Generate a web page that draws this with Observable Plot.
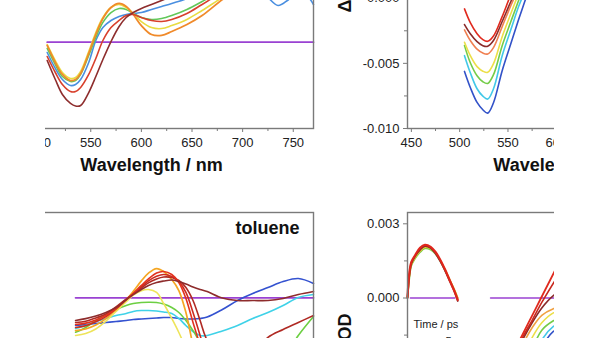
<!DOCTYPE html>
<html><head><meta charset="utf-8">
<script src="https://cdn.jsdelivr.net/npm/d3@7"></script>
<script src="https://cdn.jsdelivr.net/npm/@observablehq/plot@0.6"></script>
<style>
html,body{margin:0;padding:0;background:#fff;}
#root{position:relative;width:600px;height:338px;overflow:hidden;background:#fff;}
.clip{position:absolute;overflow:hidden;}
.clip svg{position:absolute;max-width:none !important;}
</style></head><body>
<div id="root">
  <div class="clip" id="left" style="left:45px;top:0;width:290px;height:338px"></div>
  <div class="clip" id="right" style="left:335px;top:0;width:219px;height:338px"></div>
</div>
<script>
// ---------- Panel A (top-left): wavelength grid and spectra (arb. units, mOD) ----------
const wlA = [507,515,522,530,535,540,548,555,562,570,578,585,592,600,610,620,630,645,660,680,700,715,725,735,745,755,765,770];
const aOrange = [-0.25,-1.56,-2.48,-2.95,-2.87,-2.41,-0.87,0.59,1.82,2.67,2.98,2.75,2.13,1.28,0.59,0.52,0.82,1.36,2.05,3.28,4.36,5.0,5.3,5.5,5.5,5.4,5.3,5.3];
const aYellow = [-0.18,-1.41,-2.33,-2.79,-2.72,-2.25,-0.72,0.75,1.9,2.67,2.9,2.67,2.21,1.59,1.13,1.05,1.28,1.75,2.44,3.44,4.36,5.0,5.3,5.5,5.5,5.4,5.3,5.3];
const aGreen  = [-0.48,-1.72,-2.64,-3.02,-2.95,-2.48,-1.02,0.36,1.52,2.28,2.59,2.52,2.21,1.9,1.75,1.82,2.05,2.52,3.13,4.0,4.6,5.0,5.2,5.3,5.3,5.2,5.1,5.1];
const aBlue   = [-0.79,-2.02,-2.87,-3.33,-3.25,-2.87,-1.56,0.13,1.13,1.67,1.98,2.13,2.21,2.28,2.52,2.75,2.98,3.36,3.98,4.59,4.9,4.13,3.44,2.82,3.25,3.82,3.44,2.9];
const aRed    = [-1.1,-2.33,-3.25,-3.79,-3.79,-3.48,-2.48,-1.25,0.13,1.13,1.67,2.05,2.13,1.9,1.67,1.59,1.75,2.21,2.9,3.82,4.36,4.7,4.9,5.0,5.0,5.0,5.0,5.0];
const aBrown  = [-1.41,-2.87,-4.02,-4.71,-4.91,-4.87,-3.87,-2.64,-1.33,0.05,1.21,1.9,2.28,2.59,2.9,3.21,3.52,3.98,4.36,4.75,5.0,5.2,5.3,5.4,5.4,5.4,5.4,5.4];
const aPurple = wlA.map(() => 0);

// ---------- Panel B (top-right): ΔOD ----------
const wlB = [505,511,518,524,529,535,544,553,561,567,575];
const bRed    = [-0.00082,-0.00187,-0.00272,-0.00318,-0.00331,-0.00290,-0.00141,0.00028,0.00152,0.0025,0.0038];
const bBrown  = [-0.00202,-0.00272,-0.00333,-0.00364,-0.00369,-0.00325,-0.00179,-0.00025,0.00098,0.0019,0.0031];
const bOrange = [-0.00243,-0.00325,-0.00391,-0.00421,-0.00428,-0.00379,-0.00218,-0.00056,0.00075,0.0017,0.0029];
const bYellow = [-0.00338,-0.00441,-0.00525,-0.00560,-0.00569,-0.00502,-0.00295,-0.00118,0.00036,0.0014,0.0027];
const bGreen  = [-0.00364,-0.00495,-0.00595,-0.00641,-0.00654,-0.00587,-0.00364,-0.00179,-0.00018,0.00098,0.0024];
const bCyan   = [-0.00441,-0.00572,-0.00695,-0.00752,-0.00774,-0.00695,-0.00441,-0.00241,-0.00064,0.00044,0.0019];
const bBlue   = [-0.00562,-0.00685,-0.00800,-0.00856,-0.00882,-0.00802,-0.00556,-0.00348,-0.00164,-0.00033,0.00136];

// ---------- Panel C (bottom-left, toluene) ----------
const wlC = [535,545,555,565,575,585,592,600,607,615,622,630,637,644,651,658,665,680,695,710,725,740,755,770];
const cBrown  = [-1.75,-1.6,-1.4,-1.13,-0.75,-0.15,0.25,0.64,0.95,1.18,1.29,1.37,1.25,1.06,0.83,0.64,0.48,-0.02,-0.21,-0.21,-0.21,-0.05,0.25,0.48];
const cRedA   = [-2.05,-1.95,-1.7,-1.35,-0.8,-0.15,0.35,0.95,1.45,1.9,2.02,1.79,1.18,-0.05,-1.9,-3.67,-5.59];
const cRedB   = [-2.28,-2.15,-1.85,-1.45,-0.85,-0.15,0.3,0.85,1.3,1.65,1.79,1.64,1.25,0.41,-1.13,-2.9,-4.82];
const cRedC   = [-1.9,-1.8,-1.55,-1.25,-0.7,-0.1,0.3,0.75,1.15,1.45,1.6,1.56,1.33,0.79,-0.21,-1.75,-3.28,-4.82,-5.59,-4.44,-3.05,-2.44,-1.9,-1.36];
const cOrange = [-2.52,-2.4,-2.1,-1.6,-0.9,-0.15,0.5,1.3,1.9,2.25,2.02,1.41,0.56,-1.13,-3.67,-5.98];
const cYellow = [-2.9,-2.75,-2.4,-1.8,-1.05,-0.3,0.2,0.55,0.64,0.41,-0.44,-1.59,-2.67,-3.9,-5.21];
const cGreen  = [-2.65,-2.28,-1.75,-1.29,-0.9,-0.59,-0.44,-0.36,-0.34,-0.36,-0.48,-0.75,-1.13,-1.75,-2.52,-3.44,-4.44,-5.98,-6.75,-6.75,-5.98,-4.67,-2.9,-1.44];
const cCyan   = [-2.36,-2.13,-1.82,-1.59,-1.36,-1.21,-1.05,-0.98,-0.98,-1.02,-1.09,-1.21,-1.59,-2.13,-2.59,-2.9,-2.9,-2.55,-2.13,-1.59,-1.13,-0.59,0.02,0.25];
const cBlue   = [-2.13,-2.05,-1.98,-1.9,-1.82,-1.75,-1.67,-1.63,-1.59,-1.55,-1.52,-1.52,-1.59,-1.63,-1.63,-1.59,-1.48,-0.9,-0.21,0.33,0.79,1.25,1.48,1.1];
const cPurple = wlC.map(() => 0);

// ---------- Panel D (bottom-right): ΔOD ----------
const wlD1 = [446,448,450,454,459,464,470,475,480,485,490,495,498];
const dHumpRed   = [0.00004,0.00105,0.00146,0.00174,0.00203,0.00215,0.00207,0.00186,0.00154,0.00114,0.00069,0.00024,-0.00008];
const dHumpBrown = [0.0,0.00095,0.0014,0.0017,0.00195,0.0021,0.00202,0.0018,0.00148,0.0011,0.00066,0.00022,-0.00012];
const dHumpYel   = [0.0,0.0009,0.00135,0.00165,0.0019,0.00205,0.002,0.00182,0.00152,0.00115,0.00072,0.0003,0.0];
const dHumpGreen = [0.0,0.0008,0.0013,0.0016,0.00185,0.002,0.00195,0.00178,0.00148,0.0011,0.0007,0.00028,0.0];
const wlD1p = [449,452,460,470,480,490,495];
const dPurple1 = wlD1p.map(() => 0);
const wlD2 = [532,545,555,565,575,585,597,610];
const dRed    = [null,-0.003,-0.00225,-0.00148,-0.00071,0.00006,0.00098,0.002];
const dRed2   = [null,-0.0031,-0.0024,-0.0016,-0.0009,-0.00018,0.0006,0.0014];
const dBrown  = [null,null,-0.0025,-0.0017,-0.0010,-0.0004,0.0001,0.0004];
const dOrange = [null,null,null,-0.0019,-0.0012,-0.0007,-0.00043,-0.0003];
const dYellow = [null,null,null,-0.0024,-0.0016,-0.0010,-0.0006,-0.00045];
const dGreen  = [null,null,null,null,-0.0021,-0.0013,-0.00092,-0.0007];
const dCyan   = [null,null,null,null,-0.0026,-0.0017,-0.00115,-0.0009];
const dBlue   = [null,null,null,null,-0.003,-0.0020,-0.00135,-0.0011];
const dPurple2 = wlD2.map(() => 0);

// ---------- axes ----------
const xDomainA = [450, 770];
const yDomainA = [-6.638, 7.823];
const yDomainC = [-7.9, 6.562];
const xDomainB = [446, 771];
const yDomainB = [-0.010, 0.00443];
const yDomainD = [-0.004144, 0.003457];
const xMajor = [450, 500, 550, 600, 650, 700, 750];
const xMinor = [475, 525, 575, 625, 675, 725];
const yMajorB = [-0.010, -0.005, 0.000];
const yMinorB = [-0.0075, -0.0025];
const yMajorD = [-0.003, 0.000, 0.003];
const yMinorD = [-0.0015, 0.0015];
const xLabel = "Wavelength / nm";
const yLabel = "ΔOD";
const solvent = "toluene";
const legendTitle = "Time / ps";
const legendFirst = "5";

const FONT = "'Liberation Sans', Arial, Helvetica, sans-serif";
const AX = "#7a7a7a";
const baseStyle = {fontFamily: FONT, fontSize: "13px", color: "#222", background: "none", maxWidth: "none", overflow: "visible"};

function ln(xs, ys, color, w = 1.6) {
  return Plot.line(xs.map((x, i) => ({x, y: ys[i] ?? null})), {x: "x", y: "y", stroke: color, strokeWidth: w, curve: "catmull-rom"});
}
function place(svg, parent, left, top) {
  svg.style.left = left + "px"; svg.style.top = top + "px";
  document.getElementById(parent).appendChild(svg);
}
const xAxes = () => [
  Plot.axisX({ticks: xMajor, tickSize: 4, tickPadding: 5, tickFormat: d => String(d), label: null, stroke: AX, fill: "#222"}),
  Plot.axisX({ticks: xMinor, tickSize: 3, tickFormat: () => "", label: null, stroke: AX})
];
const bold = {fontSize: 18, fontWeight: "bold", fill: "#111", lineAnchor: "middle"};

// Panel A
const plotA = Plot.plot({
  width: 334, height: 248, marginLeft: 0, marginRight: 10, marginTop: 0, marginBottom: 60,
  x: {domain: xDomainA, label: null},
  y: {domain: yDomainA, axis: null, label: null},
  style: baseStyle,
  marks: [
    ln(wlA, aPurple, "#9a42d2", 1.8),
    ln(wlA, aBlue, "#4a8fe0"),
    ln(wlA, aGreen, "#62c85a"),
    ln(wlA, aYellow, "#e8dc42"),
    ln(wlA, aOrange, "#f08a2a", 1.8),
    ln(wlA, aRed, "#d8402c"),
    ln(wlA, aBrown, "#8e2e2e"),
    Plot.frame({stroke: AX, strokeWidth: 1.4}),
    ...xAxes(),
    Plot.text([xLabel], {frameAnchor: "bottom", dy: 37, ...bold})
  ]
});
place(plotA, "left", -56, -60);

// Panel C
const plotC = Plot.plot({
  width: 334, height: 193, marginLeft: 0, marginRight: 10, marginTop: 5, marginBottom: 0,
  x: {domain: xDomainA, axis: null, label: null},
  y: {domain: yDomainC, axis: null, label: null},
  style: baseStyle,
  marks: [
    ln(wlC, cPurple, "#9a42d2", 1.8),
    ln(wlC, cBlue, "#3452d0"),
    ln(wlC, cCyan, "#3fd2e8"),
    ln(wlC, cGreen, "#6ccf42"),
    ln(wlC, cYellow, "#eee45a"),
    ln(wlC, cOrange, "#f5a623", 1.7),
    ln(wlC, cRedC, "#b02a24"),
    ln(wlC, cRedB, "#cc2a20"),
    ln(wlC, cRedA, "#e2321e"),
    ln(wlC, cBrown, "#8e2c2c"),
    Plot.frame({stroke: AX, strokeWidth: 1.4}),
    Plot.text([solvent], {frameAnchor: "top-right", textAnchor: "end", dx: -14, dy: 16, ...bold})
  ]
});
place(plotC, "left", -56, 207);

// Panel B
const plotB = Plot.plot({
  width: 396, height: 248, marginLeft: 72, marginRight: 10, marginTop: 0, marginBottom: 60,
  x: {domain: xDomainB, label: null},
  y: {domain: yDomainB, label: null},
  style: baseStyle,
  marks: [
    ln(wlB, bBlue, "#3252c8"),
    ln(wlB, bCyan, "#42c8e8"),
    ln(wlB, bGreen, "#74cc48"),
    ln(wlB, bYellow, "#ecdf48"),
    ln(wlB, bOrange, "#f08052"),
    ln(wlB, bBrown, "#8a2a2a"),
    ln(wlB, bRed, "#e02a1e"),
    Plot.frame({stroke: AX, strokeWidth: 1.4}),
    ...xAxes(),
    Plot.axisY({ticks: yMajorB, tickSize: 4, tickPadding: 4, tickFormat: d => d.toFixed(3), label: null, stroke: AX, fill: "#222"}),
    Plot.axisY({ticks: yMinorB, tickSize: 3, tickFormat: () => "", label: null, stroke: AX}),
    Plot.text([xLabel], {frameAnchor: "bottom", dy: 37, ...bold}),
    Plot.text([yLabel], {frameAnchor: "bottom-left", rotate: -90, textAnchor: "start", dx: -62, dy: -116, ...bold})
  ]
});
place(plotB, "right", 0, -60);

// Panel D
const plotD = Plot.plot({
  width: 396, height: 193, marginLeft: 72, marginRight: 10, marginTop: 5, marginBottom: 0,
  x: {domain: xDomainB, axis: null, label: null},
  y: {domain: yDomainD, label: null},
  style: baseStyle,
  marks: [
    ln(wlD1p, dPurple1, "#9a42d2", 1.6),
    ln(wlD1, dHumpGreen, "#7ccc48", 1.6),
    ln(wlD1, dHumpYel, "#f0c830", 1.6),
    ln(wlD1, dHumpBrown, "#8a2a2a", 1.8),
    ln(wlD1, dHumpRed, "#e0261c", 2.2),
    ln(wlD2, dPurple2, "#9a42d2", 1.6),
    ln(wlD2, dBlue, "#3252c8"),
    ln(wlD2, dCyan, "#42c8e8"),
    ln(wlD2, dGreen, "#74cc48"),
    ln(wlD2, dYellow, "#ecdf48"),
    ln(wlD2, dOrange, "#f0a040"),
    ln(wlD2, dBrown, "#8a2a2a"),
    ln(wlD2, dRed2, "#c8281e"),
    ln(wlD2, dRed, "#e02a1e", 1.8),
    Plot.frame({stroke: AX, strokeWidth: 1.4}),
    Plot.axisY({ticks: yMajorD, tickSize: 4, tickPadding: 4, tickFormat: d => d.toFixed(3), label: null, stroke: AX, fill: "#222"}),
    Plot.axisY({ticks: yMinorD, tickSize: 3, tickFormat: () => "", label: null, stroke: AX}),
    Plot.text([yLabel], {frameAnchor: "top-left", rotate: -90, textAnchor: "start", dx: -62, dy: 141, ...bold}),
    Plot.text([legendTitle], {frameAnchor: "top-left", textAnchor: "start", lineAnchor: "middle", dx: 6, dy: 112, fontSize: 11, fill: "#222"}),
    Plot.text(["\u2014\u2014"], {frameAnchor: "top-left", textAnchor: "start", lineAnchor: "middle", dx: 6, dy: 125, fontSize: 14, fill: "#a040d8"}),
    Plot.text([legendFirst], {frameAnchor: "top-left", textAnchor: "start", lineAnchor: "middle", dx: 38, dy: 129, fontSize: 11, fill: "#222"})
  ]
});
place(plotD, "right", 0, 207);
</script>
</body></html>
